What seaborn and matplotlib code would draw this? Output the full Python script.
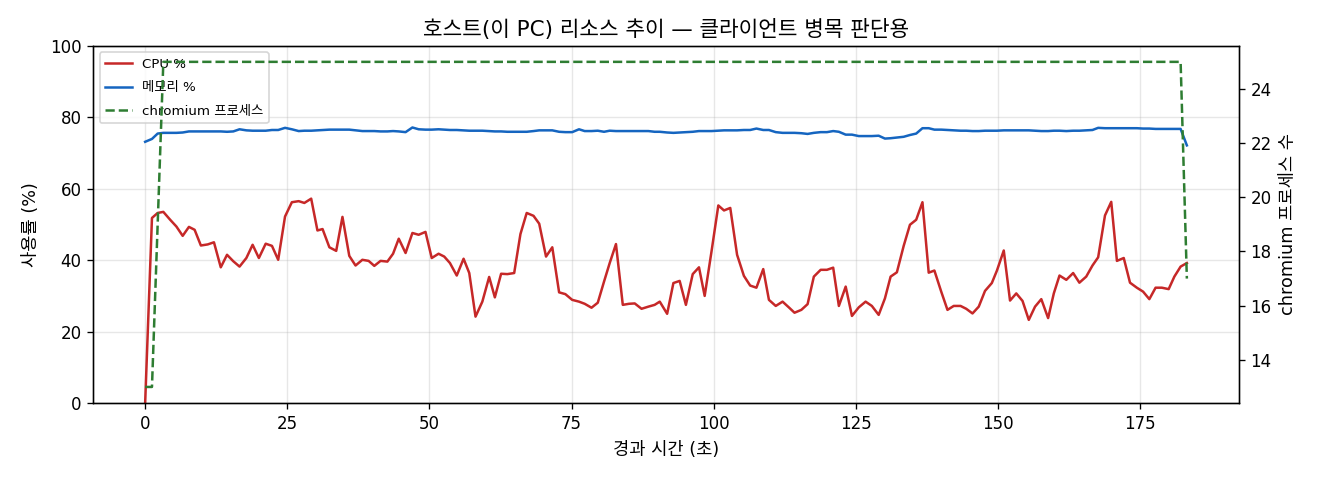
import matplotlib
matplotlib.use("Agg")
import matplotlib.pyplot as plt
import seaborn as sns
import pandas as pd

plt.rcParams['font.family'] = ['DejaVu Sans', 'Noto Sans CJK KR']
plt.rcParams['axes.unicode_minus'] = False

# elapsed time (s)
t = [0, 1.2, 2.2, 3.2, 4.4, 5.5, 6.6, 7.7, 8.7, 9.8, 11.0, 12.1, 13.3, 14.4, 15.5, 16.6, 17.8, 18.9, 20.0, 21.2,
     22.3, 23.4, 24.6, 25.8, 27.0, 28.0, 29.2, 30.3,
     31.2, 32.4, 33.6, 34.7, 35.9, 37.0, 38.2, 39.3, 40.3, 41.4, 42.6, 43.6, 44.6, 45.8, 47.0, 48.1, 49.3, 50.4,
     51.6, 52.6, 53.6, 54.8, 56.0, 57.0, 58.1, 59.3, 60.5,
     61.5, 62.6, 63.7, 64.9, 66.0, 67.1, 68.3, 69.3, 70.5, 71.6, 72.8, 73.9, 75.1, 76.3, 77.3, 78.5, 79.6, 80.7,
     81.7, 82.8, 84.0, 85.1, 86.1, 87.3, 88.5, 89.6, 90.5,
     91.8, 92.9, 94.0, 95.1, 96.3, 97.4, 98.4, 99.6, 100.8, 101.8, 102.9, 104.1, 105.3, 106.4, 107.5, 108.7,
     109.7, 110.9, 112.1, 113.2, 114.2, 115.4, 116.5, 117.6, 118.8, 119.9,
     121.0, 122.0, 123.2, 124.3, 125.5, 126.7, 127.8, 129.0, 130.1, 131.1, 132.2, 133.4, 134.5, 135.6, 136.7,
     137.8, 138.8, 140.0, 141.1, 142.2, 143.4, 144.4, 145.5, 146.6, 147.7, 148.9,
     149.8, 151.0, 152.1, 153.2, 154.3, 155.4, 156.5, 157.6, 158.8, 159.8, 160.8, 162.0, 163.2, 164.3, 165.5,
     166.6, 167.6, 168.8, 169.9, 170.9, 172.1, 173.2, 174.4, 175.5, 176.6, 177.7, 178.8, 180.0, 181.0, 182.1, 183.2]

cpu = [0, 51.8, 53.2, 53.5, 51.3, 49.4, 46.8, 49.3, 48.5, 44.1, 44.4, 45.0, 38.0, 41.5, 39.7, 38.2, 40.6, 44.3, 40.6, 44.6,
       44.0, 40.1, 52.2, 56.2, 56.5, 56.0, 57.2, 48.3,
       48.7, 43.6, 42.6, 52.1, 41.2, 38.5, 40.1, 39.8, 38.4, 39.8, 39.6, 41.8, 46.0, 42.0, 47.6, 47.1, 47.9, 40.6,
       41.8, 41.0, 39.2, 35.7, 40.4, 36.4, 24.2, 28.4, 35.3,
       29.6, 36.2, 36.1, 36.4, 47.3, 53.2, 52.4, 50.2, 41.0, 43.6, 31.0, 30.5, 28.9, 28.4, 27.8, 26.7, 28.1, 34.0,
       39.2, 44.5, 27.5, 27.8, 27.9, 26.4, 27.0, 27.5, 28.4,
       25.0, 33.6, 34.2, 27.5, 36.1, 38.0, 30.0, 42.4, 55.3, 53.9, 54.6, 41.5, 35.6, 32.9, 32.3, 37.5,
       28.9, 27.2, 28.4, 26.8, 25.3, 26.1, 27.7, 35.4, 37.3, 37.3,
       37.9, 27.2, 32.6, 24.4, 26.8, 28.4, 27.2, 24.7, 29.3, 35.4, 36.6, 44.0, 49.9, 51.3, 56.2,
       36.5, 37.1, 31.2, 26.1, 27.2, 27.2, 26.4, 25.1, 27.0, 31.4, 33.6,
       37.1, 42.7, 28.7, 30.7, 28.6, 23.3, 27.0, 29.1, 23.8, 30.7, 35.7, 34.5, 36.4, 33.7, 35.4,
       38.5, 40.8, 52.5, 56.3, 39.8, 40.6, 33.7, 32.3, 31.2, 29.1, 32.3, 32.3, 31.9, 35.4, 38.2, 39.2]

mem = [73.1, 73.9, 75.4, 75.6, 75.6, 75.6, 75.7, 76.0, 76.0, 76.0, 76.0, 76.0, 76.0, 75.9, 76.0, 76.6, 76.3, 76.2, 76.2, 76.2,
       76.4, 76.4, 77.0, 76.6, 76.1, 76.2, 76.2, 76.3,
       76.4, 76.5, 76.5, 76.5, 76.5, 76.3, 76.1, 76.1, 76.1, 76.0, 76.0, 76.1, 76.0, 75.8, 77.1, 76.6, 76.5, 76.5,
       76.6, 76.5, 76.4, 76.4, 76.3, 76.2, 76.2, 76.2, 76.1,
       76.0, 76.0, 75.9, 75.9, 75.9, 75.9, 76.1, 76.3, 76.3, 76.3, 75.9, 75.8, 75.8, 76.6, 76.1, 76.1, 76.2, 75.9,
       76.2, 76.1, 76.1, 76.1, 76.1, 76.1, 76.1, 75.9, 75.9,
       75.7, 75.6, 75.7, 75.8, 75.9, 76.1, 76.1, 76.1, 76.2, 76.3, 76.3, 76.3, 76.4, 76.4, 76.8, 76.4,
       76.4, 75.8, 75.6, 75.6, 75.6, 75.5, 75.3, 75.6, 75.8, 75.8,
       76.1, 75.9, 75.1, 75.1, 74.7, 74.7, 74.7, 74.8, 74.0, 74.1, 74.3, 74.5, 75.0, 75.4, 76.9,
       76.9, 76.5, 76.5, 76.4, 76.3, 76.2, 76.2, 76.1, 76.1, 76.2, 76.2,
       76.2, 76.3, 76.3, 76.3, 76.3, 76.3, 76.2, 76.1, 76.1, 76.2, 76.2, 76.1, 76.2, 76.2, 76.3,
       76.4, 77.0, 76.9, 76.9, 76.9, 76.9, 76.9, 76.9, 76.8, 76.8, 76.7, 76.7, 76.7, 76.7, 76.7, 72.1]

chromium = [13, 13, 19] + [25] * 161 + [17]

df = pd.DataFrame({"t": t, "cpu": cpu, "mem": mem, "chromium": chromium})

fig, ax = plt.subplots(figsize=(11, 4), dpi=120)
fig.subplots_adjust(left=0.0705, right=0.9386, top=0.905, bottom=0.16)

sns.lineplot(data=df, x="t", y="cpu", ax=ax, color="#c62828", linewidth=1.5, label="CPU %")
sns.lineplot(data=df, x="t", y="mem", ax=ax, color="#1565c0", linewidth=1.5, label="메모리 %")
ax.set_ylim(0, 100)
ax.set_xlabel("경과 시간 (초)", fontsize=10.6, labelpad=5)
ax.set_ylabel("사용률 (%)", fontsize=10.6, labelpad=6)
ax.set_title("호스트(이 PC) 리소스 추이 — 클라이언트 병목 판단용", fontsize=12.8)
ax.grid(alpha=0.3)

ax2 = ax.twinx()
sns.lineplot(data=df, x="t", y="chromium", ax=ax2, color="#2e7d32", linewidth=1.5, linestyle="--",
             label="chromium 프로세스")
ax2.set_ylabel("chromium 프로세스 수", fontsize=10.6)

h1, l1 = ax.get_legend_handles_labels()
h2, l2 = ax2.get_legend_handles_labels()
if ax2.get_legend() is not None:
    ax2.get_legend().remove()
ax.legend(h1 + h2, l1 + l2, loc="upper left", fontsize=8, labelspacing=0.8)

fig.savefig("out.png", dpi=120)
